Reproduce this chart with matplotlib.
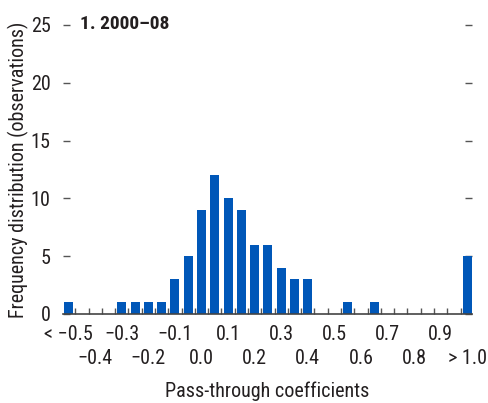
# Histograma dos coeficientes de pass-through (2000-08)
import matplotlib
matplotlib.use("Agg")
import matplotlib.pyplot as plt
from matplotlib import font_manager

# =========================
# DADOS
# =========================
rotulos_sup = ["< \u22120.5", "\u22120.3", "\u22120.1", "0.1", "0.3", "0.5", "0.7", "0.9"]
rotulos_inf = ["\u22120.4", "\u22120.2", "0.0", "0.2", "0.4", "0.6", "0.8", "> 1.0"]
frequencias = [1, 0, 0, 0, 1, 1, 1, 1, 3, 5, 9, 12, 10, 9, 6, 6,
               4, 3, 3, 0, 0, 1, 0, 1, 0, 0, 0, 0, 0, 0, 5]
titulo = "1. 2000\u201308"

AZUL = "#0057B8"
TEXTO = "#231F20"
CINZA = "#555555"

nomes = {f.name for f in font_manager.fontManager.ttflist}
fonte = "Roboto Condensed" if "Roboto Condensed" in nomes else "DejaVu Sans"
plt.rcParams["font.family"] = [fonte, "DejaVu Sans"]
plt.rcParams["font.size"] = 14.5
plt.rcParams["text.color"] = TEXTO

fig = plt.figure(figsize=(4.89, 4.03), dpi=100)
ax = fig.add_axes([0.129, 0.221, 0.836, 0.717])

pos = list(range(len(frequencias)))
ax.bar(pos, frequencias, width=0.68, color=AZUL, zorder=2)

ax.set_xlim(-0.42, 30.35)
ax.set_ylim(0, 25)

# ticks nas fronteiras dos intervalos
ax.set_xticks([i + 0.5 for i in range(len(frequencias) - 1)])
ax.set_xticklabels([])
ax.tick_params(axis="x", which="major", direction="in", length=4, width=1, colors=CINZA)

# rótulos: linha de cima no eixo principal, linha de baixo num eixo secundário
pos_sup = [4 * k for k in range(len(rotulos_sup))]
pos_inf = [4 * k + 2 for k in range(len(rotulos_inf))]
ax.set_xticks(pos_sup, minor=True)
ax.set_xticklabels(rotulos_sup, minor=True, color=TEXTO)
ax.tick_params(axis="x", which="minor", length=0, pad=8)

sec = ax.secondary_xaxis("bottom")
sec.set_xticks(pos_inf)
sec.set_xticklabels(rotulos_inf, color=TEXTO)
sec.tick_params(axis="x", length=0, pad=25)
sec.spines["bottom"].set_visible(False)
sec.set_xlabel("Pass-through coefficients", labelpad=10, color=TEXTO)

ax.set_yticks([0, 5, 10, 15, 20, 25])
ax.tick_params(axis="y", direction="in", length=5, width=1, colors=CINZA,
               labelcolor=TEXTO, left=True, right=True, pad=9)

for lado in ["top", "left", "right"]:
    ax.spines[lado].set_visible(False)
ax.spines["bottom"].set_color("#444444")
ax.spines["bottom"].set_linewidth(1.2)
ax.spines["bottom"].set_zorder(3)

ax.set_ylabel("Frequency distribution (observations)", color=TEXTO)
ax.yaxis.set_label_coords(-0.083, 0.5)

ax.text(0.042, 1.005, titulo, transform=ax.transAxes, fontsize=14,
        fontweight="bold", ha="left", va="center", color=TEXTO)

fig.savefig("out.png", dpi=100)
